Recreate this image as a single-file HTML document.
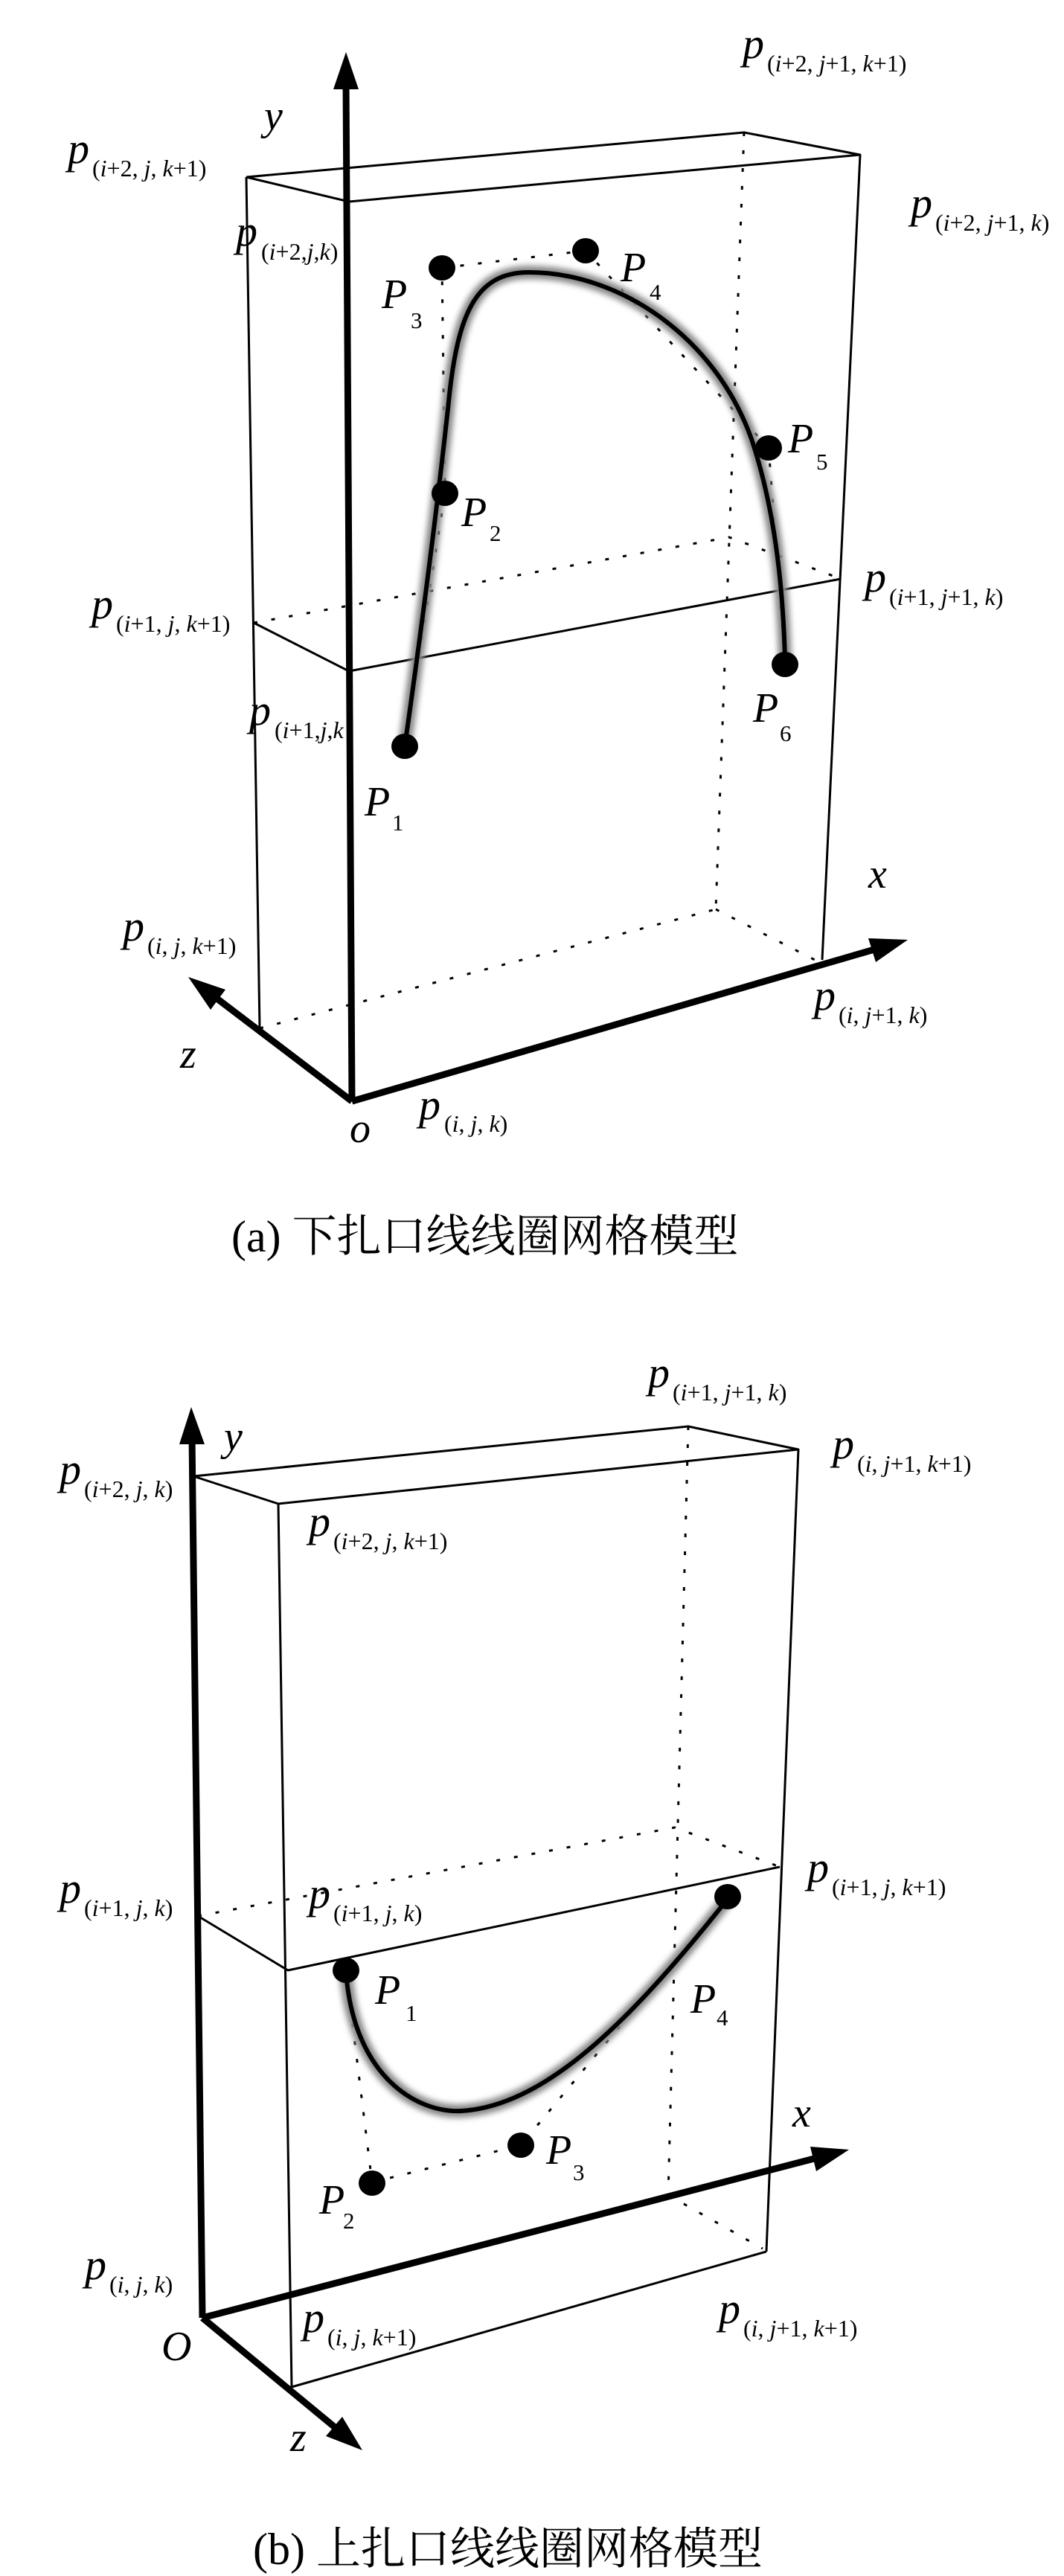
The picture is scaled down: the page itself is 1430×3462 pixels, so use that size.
<!DOCTYPE html>
<html><head><meta charset="utf-8"><style>
html,body{margin:0;padding:0;background:#fff;}
svg{display:block;}
text{font-family:"Liberation Serif","Noto Serif CJK SC","DejaVu Serif",serif;fill:#000;}
.it{font-style:italic;}
.pl{font-size:58px;font-style:italic;}
.sb{font-size:32px;}
.P{font-size:56px;font-style:italic;}
.ps{font-size:31px;}
.cap{font-size:60px;font-family:"Liberation Serif","Noto Serif CJK SC","Noto Sans CJK SC",serif;}
</style></head><body>
<svg width="1430" height="3462" viewBox="0 0 1430 3462" xmlns="http://www.w3.org/2000/svg" font-family="Liberation Serif, Noto Serif CJK SC, DejaVu Serif, serif">
<defs><filter id="bl" x="-20%" y="-20%" width="140%" height="140%"><feGaussianBlur stdDeviation="4"/></filter></defs>
<g fill="none" stroke="#000" stroke-width="3" stroke-linejoin="round">
<polyline points="331,238 1000,178 1156,208 469,271 331,238"/>
<line x1="331" y1="238" x2="349" y2="1382"/>
<line x1="1156" y1="208" x2="1105" y2="1290"/>
<polyline points="341,837 469,902 1130,778"/>
<g stroke-dasharray="5 19">
<line x1="1000" y1="178" x2="962" y2="1222"/>
<line x1="349" y1="1382" x2="962" y2="1222"/>
<line x1="962" y1="1222" x2="1095" y2="1290"/>
<polyline points="341,837 980,722 1125,776"/>
<polyline points="544,1003 598,663 594,360 787,337 1033,602 1055,893"/>
</g>
<polyline points="260,1984 925,1917 1073,1948 374,2021 260,1984"/>
<line x1="374" y1="2021" x2="392" y2="3208"/>
<line x1="1073" y1="1948" x2="1030" y2="3026"/>
<line x1="392" y1="3208" x2="1030" y2="3026"/>
<polyline points="266,2575 387,2648 1048,2509"/>
<g stroke-dasharray="5 19">
<line x1="925" y1="1917" x2="898" y2="2950"/>
<line x1="898" y1="2950" x2="1025" y2="3022"/>
<polyline points="266,2575 907,2456 1048,2509"/>
<polyline points="465,2648 500,2933 700,2883 978,2549"/>
</g>
</g>
<g fill="none" stroke-linecap="round">
<path d="M544,1003 C570,820 590,660 603,540 C615,420 640,366 711,366 C830,366 960,450 1010,590 C1040,680 1052,780 1055,885" stroke="#888" stroke-width="18" filter="url(#bl)"/>
<path d="M544,1003 C570,820 590,660 603,540 C615,420 640,366 711,366 C830,366 960,450 1010,590 C1040,680 1052,780 1055,885" stroke="#000" stroke-width="6"/>
<path d="M465,2650 C475,2790 560,2840 620,2837 C740,2830 860,2700 978,2552" stroke="#888" stroke-width="18" filter="url(#bl)"/>
<path d="M465,2650 C475,2790 560,2840 620,2837 C740,2830 860,2700 978,2552" stroke="#000" stroke-width="6"/>
</g>
<g stroke="#000" stroke-width="9" fill="none">
<line x1="473" y1="1480" x2="465" y2="110"/>
<line x1="473" y1="1480" x2="1182" y2="1274"/>
<line x1="473" y1="1480" x2="285" y2="1337"/>
<line x1="272" y1="3115" x2="258" y2="1931"/>
<line x1="272" y1="3115" x2="1102" y2="2899"/>
<line x1="272" y1="3115" x2="456" y2="3267"/>
</g>
<g fill="#000">
<polygon points="465,70 448,120 482,120"/>
<polygon points="1220,1263 1177,1293 1167,1261"/>
<polygon points="253,1313 303,1330 283,1357"/>
<polygon points="257,1891 241,1941 275,1941"/>
<polygon points="1141,2889 1097,2918 1089,2885"/>
<polygon points="487,3293 438,3274 460,3248"/>
<ellipse cx="544" cy="1003" rx="18" ry="17"/>
<ellipse cx="598" cy="663" rx="18" ry="17"/>
<ellipse cx="594" cy="360" rx="18" ry="17"/>
<ellipse cx="787" cy="337" rx="18" ry="17"/>
<ellipse cx="1033" cy="602" rx="18" ry="17"/>
<ellipse cx="1055" cy="893" rx="18" ry="17"/>
<ellipse cx="465" cy="2648" rx="18" ry="17"/>
<ellipse cx="500" cy="2934" rx="18" ry="17"/>
<ellipse cx="700" cy="2883" rx="18" ry="17"/>
<ellipse cx="978" cy="2549" rx="18" ry="17"/>
</g>
<text class="pl" x="998" y="78">p</text><text class="sb" x="1031" y="96">(<tspan class="it">i</tspan>+2, <tspan class="it">j</tspan>+1, <tspan class="it">k</tspan>+1)</text>
<text class="pl" x="91" y="219">p</text><text class="sb" x="124" y="237">(<tspan class="it">i</tspan>+2, <tspan class="it">j</tspan>, <tspan class="it">k</tspan>+1)</text>
<text class="pl" x="317" y="330">p</text><text class="sb" x="351" y="349">(<tspan class="it">i</tspan>+2,<tspan class="it">j</tspan>,<tspan class="it">k</tspan>)</text>
<text class="pl" x="1224" y="292">p</text><text class="sb" x="1257" y="310">(<tspan class="it">i</tspan>+2, <tspan class="it">j</tspan>+1, <tspan class="it">k</tspan>)</text>
<text class="pl" x="123" y="831">p</text><text class="sb" x="156" y="849">(<tspan class="it">i</tspan>+1, <tspan class="it">j</tspan>, <tspan class="it">k</tspan>+1)</text>
<text class="pl" x="1162" y="795">p</text><text class="sb" x="1195" y="813">(<tspan class="it">i</tspan>+1, <tspan class="it">j</tspan>+1, <tspan class="it">k</tspan>)</text>
<text class="pl" x="335" y="974">p</text><text class="sb" x="369" y="992">(<tspan class="it">i</tspan>+1,<tspan class="it">j</tspan>,<tspan class="it">k</tspan></text>
<text class="pl" x="165" y="1264">p</text><text class="sb" x="198" y="1282">(<tspan class="it">i</tspan>, <tspan class="it">j</tspan>, <tspan class="it">k</tspan>+1)</text>
<text class="pl" x="1094" y="1357">p</text><text class="sb" x="1127" y="1375">(<tspan class="it">i</tspan>, <tspan class="it">j</tspan>+1, <tspan class="it">k</tspan>)</text>
<text class="pl" x="563" y="1504">p</text><text class="sb" x="597" y="1521">(<tspan class="it">i</tspan>, <tspan class="it">j</tspan>, <tspan class="it">k</tspan>)</text>
<text class="P" x="513" y="414">P</text><text class="ps" x="552" y="441">3</text>
<text class="P" x="834" y="378">P</text><text class="ps" x="873" y="403">4</text>
<text class="P" x="1059" y="608">P</text><text class="ps" x="1097" y="631">5</text>
<text class="P" x="620" y="707">P</text><text class="ps" x="658" y="727">2</text>
<text class="P" x="1012" y="970">P</text><text class="ps" x="1048" y="996">6</text>
<text class="P" x="490" y="1096">P</text><text class="ps" x="527" y="1116">1</text>
<text class="P" x="355" y="174">y</text>
<text class="P" x="1167" y="1193">x</text>
<text class="P" x="242" y="1435">z</text>
<text class="P" x="470" y="1535">o</text>
<text class="cap" x="311" y="1682" font-family="Liberation Serif, Noto Serif CJK SC, serif">(a) 下扎口线线圈网格模型</text>
<text class="pl" x="871" y="1864">p</text><text class="sb" x="904" y="1882">(<tspan class="it">i</tspan>+1, <tspan class="it">j</tspan>+1, <tspan class="it">k</tspan>)</text>
<text class="pl" x="1119" y="1960">p</text><text class="sb" x="1152" y="1978">(<tspan class="it">i</tspan>, <tspan class="it">j</tspan>+1, <tspan class="it">k</tspan>+1)</text>
<text class="pl" x="80" y="1994">p</text><text class="sb" x="113" y="2012">(<tspan class="it">i</tspan>+2, <tspan class="it">j</tspan>, <tspan class="it">k</tspan>)</text>
<text class="pl" x="415" y="2064">p</text><text class="sb" x="448" y="2082">(<tspan class="it">i</tspan>+2, <tspan class="it">j</tspan>, <tspan class="it">k</tspan>+1)</text>
<text class="pl" x="1085" y="2529">p</text><text class="sb" x="1118" y="2547">(<tspan class="it">i</tspan>+1, <tspan class="it">j</tspan>, <tspan class="it">k</tspan>+1)</text>
<text class="pl" x="80" y="2557">p</text><text class="sb" x="113" y="2575">(<tspan class="it">i</tspan>+1, <tspan class="it">j</tspan>, <tspan class="it">k</tspan>)</text>
<text class="pl" x="415" y="2564">p</text><text class="sb" x="448" y="2582">(<tspan class="it">i</tspan>+1, <tspan class="it">j</tspan>, <tspan class="it">k</tspan>)</text>
<text class="pl" x="114" y="3063">p</text><text class="sb" x="147" y="3081">(<tspan class="it">i</tspan>, <tspan class="it">j</tspan>, <tspan class="it">k</tspan>)</text>
<text class="pl" x="966" y="3122">p</text><text class="sb" x="999" y="3140">(<tspan class="it">i</tspan>, <tspan class="it">j</tspan>+1, <tspan class="it">k</tspan>+1)</text>
<text class="pl" x="407" y="3134">p</text><text class="sb" x="440" y="3152">(<tspan class="it">i</tspan>, <tspan class="it">j</tspan>, <tspan class="it">k</tspan>+1)</text>
<text class="P" x="504" y="2693">P</text><text class="ps" x="545" y="2716">1</text>
<text class="P" x="928" y="2705">P</text><text class="ps" x="963" y="2722">4</text>
<text class="P" x="734" y="2908">P</text><text class="ps" x="770" y="2930">3</text>
<text class="P" x="429" y="2975">P</text><text class="ps" x="461" y="2995">2</text>
<text class="P" x="301" y="1949">y</text>
<text class="P" x="1065" y="2858">x</text>
<text class="P" x="390" y="3294">z</text>
<text class="P" x="217" y="3172">O</text>
<text class="cap" x="340" y="3446" font-family="Liberation Serif, Noto Serif CJK SC, serif">(b) 上扎口线线圈网格模型</text>
</svg>
</body></html>
